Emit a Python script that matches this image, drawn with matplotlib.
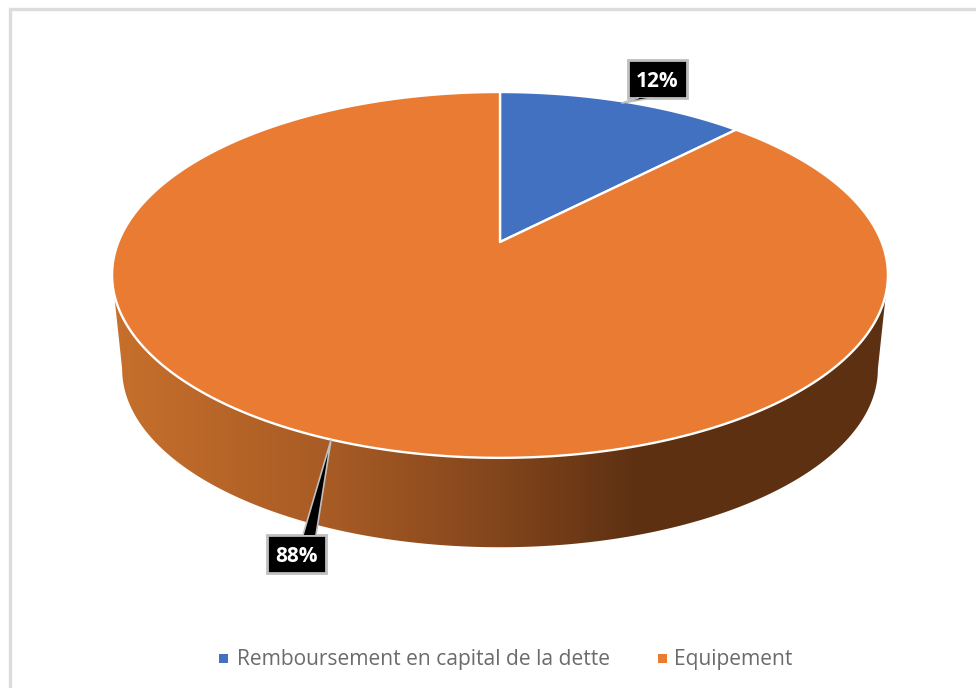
import numpy as np
import matplotlib
matplotlib.use("Agg")
import matplotlib.pyplot as plt
from matplotlib.colors import LinearSegmentedColormap
from matplotlib.patches import Polygon

labels = ["Remboursement en capital de la dette", "Equipement"]
values = [12.3, 87.7]
colors = ["#4371C2", "#EA7B32"]

plt.rcParams['font.family'] = ['Open Sans', 'DejaVu Sans']

W, H = 976, 688
fig = plt.figure(figsize=(W / 100, H / 100), dpi=100)
ax = fig.add_axes([0, 0, 1, 1])

# pie disc seen in perspective: unit circle -> screen
CX, CY = 500, 242
A, B, K = 381.6, 177, 0.18
DEPTH_Y, SHRINK = 95, 0.974


def project(theta, scale=1.0, dy=0.0):
    # theta is clockwise from 12 o'clock
    u, v = np.sin(theta), np.cos(theta)
    d = 1 + K * v
    return np.column_stack([CX + scale * A * u / d, CY + dy - scale * B * v / d])


# side wall, only the front half shows
tk = np.arctan2(np.sqrt(1 - K ** 2), -K)  # angle of the widest point
front = np.linspace(tk, 2 * np.pi - tk, 400)
side = np.vstack([project(front), project(front[::-1], SHRINK, DEPTH_Y)])
cmap = LinearSegmentedColormap.from_list("side", [
    (0.0, "#5d3012"), (0.27, "#82451c"), (0.58, "#a65a24"), (1.0, "#c66f2c")])
grad = ax.imshow(np.linspace(1, 0, 256)[None, :], cmap=cmap, aspect="auto",
                 extent=(122, 640, 0, H), zorder=1)
right_pad = ax.imshow(np.zeros((1, 2)), cmap=cmap, vmin=0, vmax=1, aspect="auto",
                      extent=(640, W, 0, H), zorder=1)
left_pad = ax.imshow(np.ones((1, 2)), cmap=cmap, vmin=0, vmax=1, aspect="auto",
                     extent=(0, 122, 0, H), zorder=1)
clip = Polygon(side, closed=True, transform=ax.transData, fc="none", ec="none")
ax.add_patch(clip)
for im in (grad, right_pad, left_pad):
    im.set_clip_path(clip)

# top face
fracs = np.cumsum([0] + values) / sum(values) * 2 * np.pi
for i, (val, col) in enumerate(zip(values, colors)):
    arc = np.linspace(fracs[i], fracs[i + 1], 300)
    pts = np.vstack([[CX, CY], project(arc)])
    ax.add_patch(Polygon(pts, closed=True, fc=col, ec="white", lw=1.7,
                         joinstyle="round", zorder=3))

# data labels with callouts
pct = [f"{100 * v / sum(values):.0f}%" for v in values]
boxes = [(628, 60, 687, 98), (267, 535, 326, 573)]
tails = [((622, 103), (638, 98), (652, 98)), ((331, 440), (303, 535), (316, 535))]
for txt, (x0, y0, x1, y1), (tip, b0, b1) in zip(pct, boxes, tails):
    ax.add_patch(Polygon([(x0, y0), (x1, y0), (x1, y1), (x0, y1)], closed=True,
                         fc="black", ec="#bfbfbf", lw=2, zorder=5))
    ax.add_patch(Polygon([tip, b0, b1], closed=True, fc="black", ec="none", zorder=6))
    ax.plot([b0[0], tip[0], b1[0]], [b0[1], tip[1], b1[1]], color="#bfbfbf", lw=1.2, zorder=6)
    ax.text((x0 + x1) / 2, (y0 + y1) / 2 + 2.5, txt, color="white", fontsize=15,
            fontweight="bold", ha="center", va="center", zorder=7)

# legend
legend_x = [(219, 237), (658, 674)]
for lab, col, (sx, tx) in zip(labels, colors, legend_x):
    ax.add_patch(Polygon([(sx, 654), (sx + 9, 654), (sx + 9, 663), (sx, 663)],
                         closed=True, fc=col, ec="none"))
    ax.text(tx, 659, lab, color="#6b6b6b", fontsize=15.1, ha="left", va="center")

# chart frame (cropped on right and bottom)
ax.plot([10, 10, W], [H, 9, 9], color="#dcdcdc", lw=2.4, solid_joinstyle="miter")

ax.set_xlim(0, W)
ax.set_ylim(H, 0)
ax.axis("off")
fig.savefig("out.png", dpi=100, facecolor="white")
